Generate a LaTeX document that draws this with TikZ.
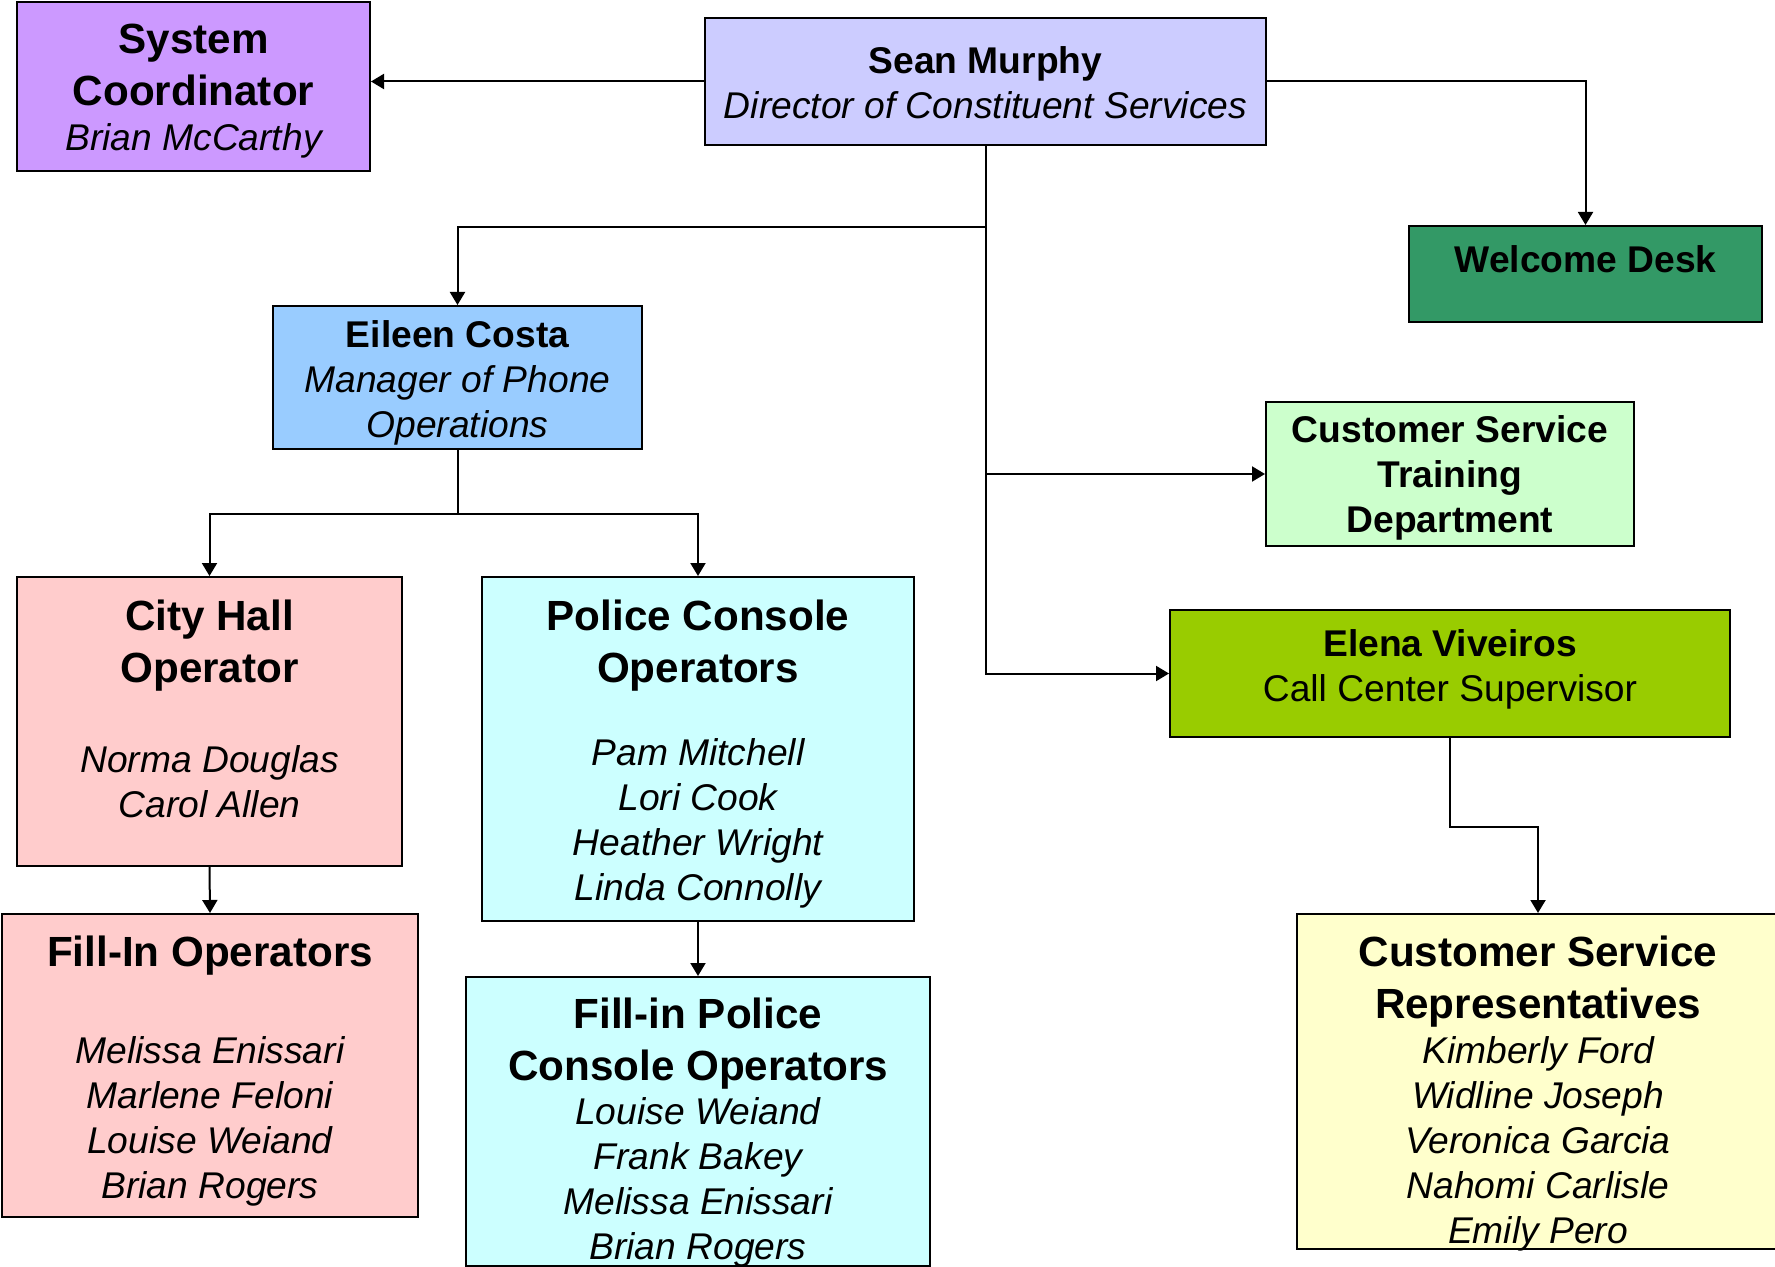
\documentclass[tikz,border=0pt]{standalone}
\usepackage{fontspec}
\setmainfont{Liberation Sans}
\usetikzlibrary{arrows.meta}

\definecolor{sysfill}{HTML}{CC99FF}
\definecolor{directorfill}{HTML}{CCCCFF}
\definecolor{welcomefill}{HTML}{339966}
\definecolor{phonefill}{HTML}{99CCFF}
\definecolor{trainingfill}{HTML}{CCFFCC}
\definecolor{callfill}{HTML}{99CC00}
\definecolor{cityfill}{HTML}{FFCCCC}
\definecolor{policefill}{HTML}{CCFFFF}
\definecolor{repfill}{HTML}{FFFFCC}

\newcommand\titlefont{\fontsize{21.1pt}{26pt}\selectfont\bfseries}
\newcommand\namefont{\fontsize{18.6pt}{22.5pt}\selectfont}
\newcommand\topgap[1]{\rule{0pt}{#1}}
\newcommand\botgap[1]{\rule[-#1]{0pt}{#1}}
\newcommand\nodepth[1]{\raisebox{0pt}[\height][0pt]{#1}}

\begin{document}
\begin{tikzpicture}[x=0.5pt, y=-0.5pt, >={Triangle[length=6.5pt, width=7.5pt]},
    unit/.style={draw, line width=1pt, inner sep=0pt, align=center, font=\namefont},
    report/.style={->, line width=1pt}]
\useasboundingbox (0,0) rectangle (1775,1267);

\node (sean) at (985.5, 81.5) [unit, fill=directorfill, minimum width=280.5pt, minimum height=63.5pt]
    {\topgap{28pt}\bfseries Sean Murphy\\ \itshape Director of Constituent Services\botgap{13pt}};
\node (sys) at (193.5, 86.5) [unit, fill=sysfill, minimum width=176.5pt, minimum height=84.5pt]
    {\topgap{26pt}\titlefont System\\[3.5pt] \titlefont Coordinator\\ \itshape Brian McCarthy\botgap{10pt}};
\node (welcome) at (1585.5, 274) [unit, fill=welcomefill, minimum width=176.5pt, minimum height=48pt]
    {\topgap{23.5pt}\bfseries Welcome Desk\botgap{24.5pt}};
\node (eileen) at (457.5, 377.5) [unit, fill=phonefill, minimum width=184.5pt, minimum height=71.5pt]
    {\topgap{20.5pt}\bfseries Eileen Costa\\ \itshape Manager of Phone\\ \itshape Operations\botgap{6pt}};
\node (training) at (1450, 474) [unit, fill=trainingfill, minimum width=184pt, minimum height=72pt]
    {\topgap{20pt}\bfseries Customer Service\\ \bfseries Training\\ \bfseries Department\botgap{7pt}};
\node (elena) at (1450, 673.5) [unit, fill=callfill, minimum width=280pt, minimum height=63.5pt]
    {\topgap{23pt}\bfseries Elena Viveiros\\ Call Center Supervisor\botgap{18pt}};

\node (cityhall) at (209.5, 721.5) [unit, fill=cityfill, minimum width=192.5pt, minimum height=144.5pt]
    {\topgap{26.5pt}\titlefont City Hall\\[3.5pt] \titlefont Operator\\[22.5pt]
     \itshape Norma Douglas\\ \itshape Carol Allen\botgap{24.5pt}};
\node (police) at (698, 749) [unit, fill=policefill, minimum width=216pt, minimum height=172pt]
    {\topgap{26.5pt}\titlefont Police Console\\[3.5pt] \titlefont Operators\\[19pt]
     \itshape Pam Mitchell\\ \itshape Lori Cook\\ \itshape Heather Wright\\ \itshape Linda Connolly\botgap{10.5pt}};
\node (fillin) at (210, 1065.5) [unit, fill=cityfill, minimum width=208pt, minimum height=151.5pt]
    {\topgap{26pt}\titlefont Fill-In Operators\\[26pt]
     \itshape Melissa Enissari\\ \itshape Marlene Feloni\\ \itshape Louise Weiand\\ \itshape Brian Rogers\botgap{9.5pt}};
\node (fillpolice) at (698, 1121.5) [unit, fill=policefill, minimum width=232pt, minimum height=144.5pt]
    {\topgap{25.5pt}\titlefont Fill-in Police\\[3.5pt] \titlefont Console Operators\\[-0.5pt]
     \itshape Louise Weiand\\ \itshape Frank Bakey\\ \itshape Melissa Enissari\\
     \nodepth{\itshape Brian Rogers}\botgap{3.5pt}};
\node (reps) at (1538, 1081.5) [unit, fill=repfill, minimum width=241pt, minimum height=167.5pt]
    {\topgap{26pt}\titlefont Customer Service\\[3.5pt] \titlefont Representatives\\
     \itshape Kimberly Ford\\ \itshape Widline Joseph\\ \itshape Veronica Garcia\\ \itshape Nahomi Carlisle\\
     \nodepth{\itshape Emily Pero}\botgap{3pt}};

\path (sean.south) ++(0,81) coordinate (seanfork);
\path (eileen.south) ++(0,64) coordinate (eileenfork);
\path (elena.south) ++(0,89) coordinate (elenabend);

\draw[report] (sean.west) -- (sean.west -| sys.east);
\draw[report] (sean.east) -| (welcome.north);
\draw[report] (sean.south) |- (elena.west);
\draw[report] (sean.south |- training.west) -- (training.west);
\draw[report] (seanfork) -| (eileen.north);

\draw[report] (eileen.south) -- (eileenfork) -| (cityhall.north);
\draw[report] (eileenfork) -| (police.north);
\draw[report] (cityhall.south) -- (fillin.north);
\draw[report] (police.south) -- (fillpolice.north);

\draw[report] (elena.south) -- (elenabend) -| (reps.north);
\end{tikzpicture}
\end{document}
